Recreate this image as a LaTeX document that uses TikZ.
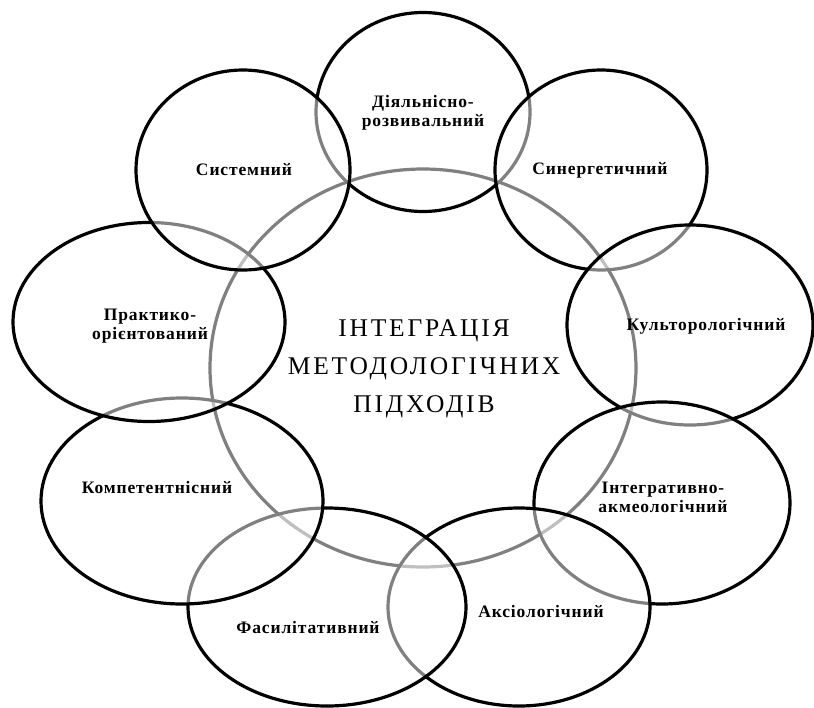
\documentclass[tikz,border=0pt]{standalone}
\usepackage{fontspec}
\setmainfont{Liberation Serif}
\newfontfamily\labfont[LetterSpace=5]{Liberation Serif}
\newfontfamily\cenfont[LetterSpace=11]{Liberation Serif}
\usetikzlibrary{shapes.geometric}
\begin{document}
\begin{tikzpicture}[x=1pt,y=-1pt,
  ring/.style={ellipse, draw=black, line width=3.2pt, fill=white, fill opacity=0.5, draw opacity=1, inner sep=0pt, outer sep=0pt},
  lab/.style={font=\labfont\bfseries\fontsize{17.5}{19}\selectfont, align=center, text=black, inner sep=0pt},
  centre/.style={font=\cenfont\fontsize{25.5}{38}\selectfont, align=center, text=black, inner sep=0pt}
]
\fill[white] (0,0) rectangle (814,707);
\useasboundingbox (0,0) rectangle (814,707);

% central circle
\node[ring, minimum width=426pt, minimum height=398pt] (core) at (423,368) {};
% outer ellipses, in stacking order
\node[ring, minimum width=214pt, minimum height=199pt] (e1) at (423,112) {};
\node[ring, minimum width=212pt, minimum height=200pt] (e2) at (601,170) {};
\node[ring, minimum width=246pt, minimum height=200pt] (e3) at (690,325) {};
\node[ring, minimum width=256pt, minimum height=202pt] (e4) at (662,503) {};
\node[ring, minimum width=262pt, minimum height=198pt] (e5) at (519,607) {};
\node[ring, minimum width=278pt, minimum height=198pt] (e6) at (327,607) {};
\node[ring, minimum width=282pt, minimum height=206pt] (e7) at (182,501) {};
\node[ring, minimum width=272pt, minimum height=199pt] (e8) at (149,322) {};
\node[ring, minimum width=214pt, minimum height=200pt] (e9) at (243,170) {};

% labels
\node[centre] (tcore) at (424,369) {ІНТЕГРАЦІЯ\\МЕТОДОЛОГІЧНИХ\\ПІДХОДІВ};
\node[lab] (t1) at (423,113) {Діяльнісно-\\розвивальний};
\node[lab] (t2) at (600,170) {Синергетичний};
\node[lab] (t3) at (706,326) {Культорологічний};
\node[lab] (t4) at (663,497) {Інтегративно-\\акмеологічний};
\node[lab] (t5) at (541,612) {Аксіологічний};
\node[lab] (t6) at (308,628) {Фасилітативний};
\node[lab] (t7) at (157,488) {Компетентнісний};
\node[lab] (t8) at (150,326) {Практико-\\орієнтований};
\node[lab] (t9) at (244,170) {Системний};
\end{tikzpicture}
\end{document}
